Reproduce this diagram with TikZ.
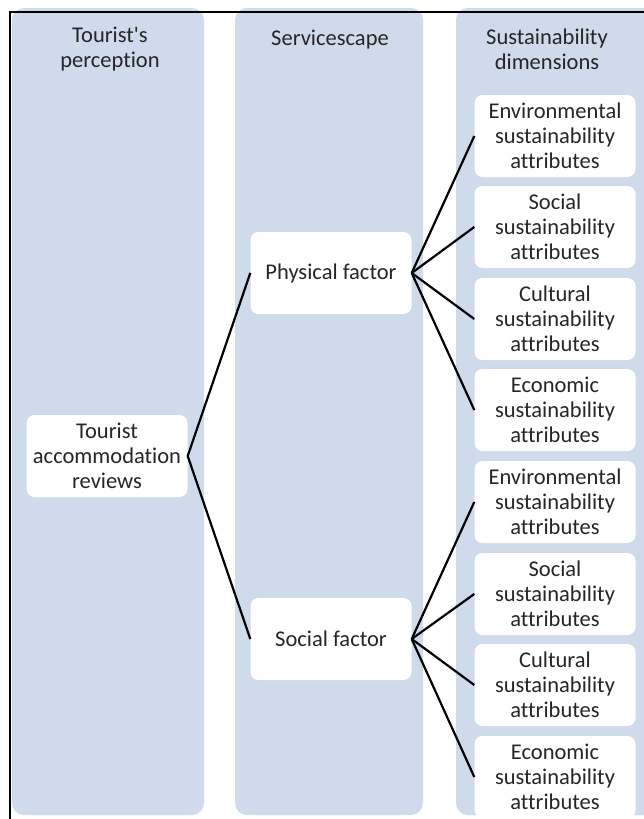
\documentclass[tikz,border=0pt]{standalone}
\usepackage{fontspec}
\setmainfont{Carlito}[Ligatures={TeXOff,CommonOff}]
\definecolor{colfill}{HTML}{CFDAEA}
\definecolor{txt}{HTML}{262626}
\tikzset{
  col/.style={fill=colfill, rounded corners=12pt},
  box/.style={draw=none, fill=white, rounded corners=8pt, minimum width=161pt, minimum height=82pt,
    align=center, inner sep=0pt, text=txt, font=\fontsize{22.5}{25}\selectfont},
  head/.style={align=center, inner sep=0pt, text=txt, font=\fontsize{22.5}{25}\selectfont},
  link/.style={line width=2.2pt, black}
}
\begin{document}
\begin{tikzpicture}[x=1pt,y=-1pt]
\useasboundingbox (0,0) rectangle (643,819);
\fill[col] (12,8) rectangle (204,815);
\fill[col] (235,8) rectangle (423,815);
\fill[col] (456,8) rectangle (660,815);
\draw[line width=2pt] (10,830) -- (10,12) -- (660,12);

\node[head] (h1) at (110,49) {Tourist's\\perception};
\node[head] (h2) at (330,40) {Servicescape};
\node[head] (h3) at (547,49) {Sustainability\\dimensions};

\node[box] (tar) at (107,456) {Tourist\\accommodation\\reviews};
\node[box] (phys) at (331,273) {Physical factor};
\node[box] (soc) at (331,639) {Social factor};

\node[box] (a1) at (555,136) {Environmental\\sustainability\\attributes};
\node[box] (a2) at (555,227) {Social\\sustainability\\attributes};
\node[box] (a3) at (555,319) {Cultural\\sustainability\\attributes};
\node[box] (a4) at (555,410) {Economic\\sustainability\\attributes};
\node[box] (b1) at (555,502) {Environmental\\sustainability\\attributes};
\node[box] (b2) at (555,594) {Social\\sustainability\\attributes};
\node[box] (b3) at (555,685) {Cultural\\sustainability\\attributes};
\node[box] (b4) at (555,777) {Economic\\sustainability\\attributes};

\draw[link] (phys.west) -- (tar.east) -- (soc.west);
\foreach \t in {a1,a2,a3,a4} \draw[link] (phys.east) -- (\t.west);
\foreach \t in {b1,b2,b3,b4} \draw[link] (soc.east) -- (\t.west);
\end{tikzpicture}
\end{document}
